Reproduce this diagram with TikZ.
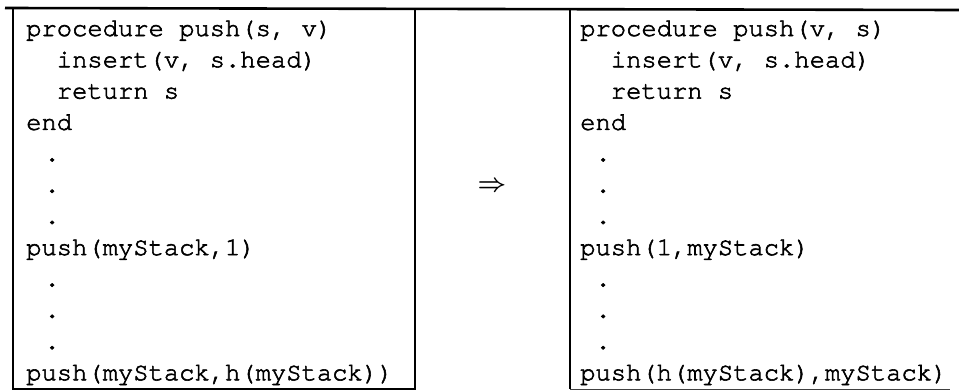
\documentclass[tikz,border=0pt]{standalone}
\usepackage{fontspec}
\newfontfamily\cour{TeX Gyre Cursor}[FakeBold=2.2]
\begin{document}
\begin{tikzpicture}[x=1pt,y=-1pt,
  code/.style={anchor=base west, inner sep=0pt, font=\cour\fontsize{25.5}{30}\selectfont},
  frame/.style={line width=1.4pt, black},
  topline/.style={line width=2.6pt, black}]
\useasboundingbox (0,0) rectangle (959,391);
% frames
\coordinate (tl) at (5,8);
\coordinate (tr) at (959,10);
\coordinate (la) at (13,9);
\coordinate (lb) at (13,389);
\coordinate (lc) at (415,389);
\coordinate (ld) at (415,9);
\coordinate (ra) at (570,9);
\coordinate (rb) at (570,389);
\coordinate (rc) at (950,389);
\draw[topline] (tl) -- (tr);
\draw[frame] (la) -- (lb) -- (lc) -- (ld);
\draw[frame] (ra) -- (rb);
\draw[line width=1pt, black!75] (rb) -- (rc);
% left code
\node[code] (l1) at (26,36) {procedure push(s, v)};
\node[code] (l2) at (26,67.3) {\phantom{xx}insert(v, s.head)};
\node[code] (l3) at (26,98.6) {\phantom{xx}return s};
\node[code] (l4) at (26,129.9) {end};
\node[code] (l5) at (29,161.2) {\phantom{x}.};
\node[code] (l6) at (29,192.5) {\phantom{x}.};
\node[code] (l7) at (29,223.8) {\phantom{x}.};
\node[code] (l8) at (26,255.1) {push(myStack,1)};
\node[code] (l9) at (29,286.4) {\phantom{x}.};
\node[code] (l10) at (29,317.7) {\phantom{x}.};
\node[code] (l11) at (29,349) {\phantom{x}.};
\node[code] (l12) at (26,380.3) {push(myStack,h(myStack))};
% arrow
\node[inner sep=0pt, font=\boldmath\fontsize{28}{32}\selectfont] (arr) at (492,187) {$\Rightarrow$};
% right code
\node[code] (r1) at (580,36) {procedure push(v, s)};
\node[code] (r2) at (580,67.3) {\phantom{xx}insert(v, s.head)};
\node[code] (r3) at (580,98.6) {\phantom{xx}return s};
\node[code] (r4) at (580,129.9) {end};
\node[code] (r5) at (580,161.2) {\phantom{x}.};
\node[code] (r6) at (580,192.5) {\phantom{x}.};
\node[code] (r7) at (580,223.8) {\phantom{x}.};
\node[code] (r8) at (580,255.1) {push(1,myStack)};
\node[code] (r9) at (580,286.4) {\phantom{x}.};
\node[code] (r10) at (580,317.7) {\phantom{x}.};
\node[code] (r11) at (580,349) {\phantom{x}.};
\node[code] (r12) at (580,380.3) {push(h(myStack),myStack)};
\end{tikzpicture}
\end{document}
